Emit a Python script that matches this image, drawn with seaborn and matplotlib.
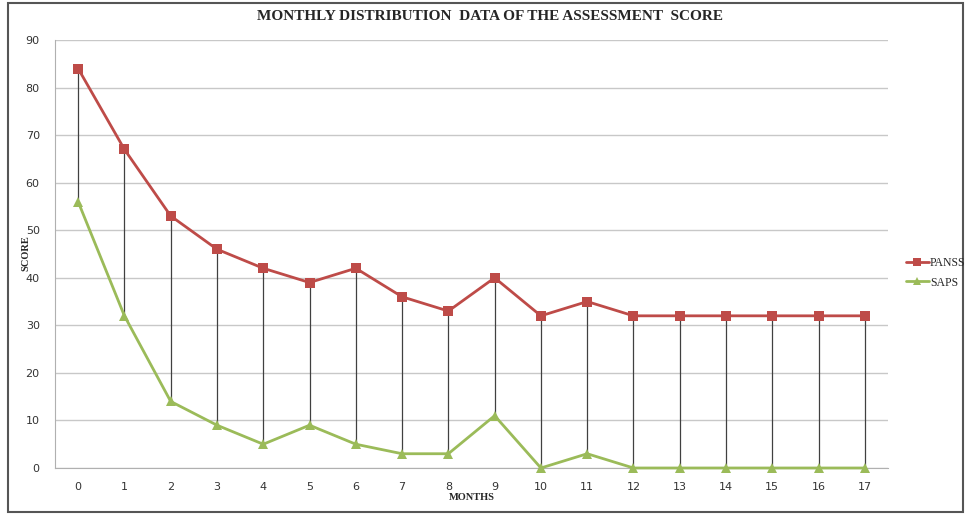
import numpy as np
import pandas as pd
import matplotlib
matplotlib.use('Agg')
import matplotlib.pyplot as plt
import seaborn as sns
from matplotlib.patches import Rectangle
from matplotlib.lines import Line2D

months = list(range(18))
panss = [84, 67, 53, 46, 42, 39, 42, 36, 33, 40, 32, 35, 32, 32, 32, 32, 32, 32]
saps = [56, 32, 14, 9, 5, 9, 5, 3, 3, 11, 0, 3, 0, 0, 0, 0, 0, 0]

df = pd.DataFrame({
    'month': months * 2,
    'score': panss + saps,
    'series': ['PANSS'] * len(months) + ['SAPS'] * len(months),
})

sns.set_style('white')
plt.rcParams['font.family'] = ['DejaVu Sans']

fig = plt.figure(figsize=(9.65, 5.14), dpi=100)
ax = fig.add_axes([55 / 965, 1 - 468 / 514, 833 / 965, 428 / 514])

# high-low lines between the two series
ax.vlines(months, saps, panss, color='#404040', lw=0.9, zorder=2)

sns.lineplot(data=df, x='month', y='score', hue='series', style='series',
             markers={'PANSS': 's', 'SAPS': '^'}, dashes=False,
             palette={'PANSS': '#BE4B48', 'SAPS': '#9BBB59'},
             lw=2, markersize=7, markeredgewidth=0, ax=ax, legend=False, zorder=3)
for ln in ax.lines:
    ln.set_clip_on(False)

ax.set_xlim(-0.5, 17.5)
ax.set_ylim(0, 90)
ax.set_xticks(months)
ax.set_yticks(range(0, 91, 10))
ax.grid(axis='y', color='#c8c8c8', lw=1)
ax.set_axisbelow(True)
for s in ['top', 'right']:
    ax.spines[s].set_visible(False)
for s in ['left', 'bottom']:
    ax.spines[s].set_color('#b0b0b0')
ax.tick_params(axis='y', length=5, labelsize=8, pad=6, colors='#b0b0b0', labelcolor='#333333')
ax.tick_params(axis='x', length=0, labelsize=8, pad=10, labelcolor='#333333')
ax.set_xlabel('')
ax.set_ylabel('')

serif = ['Liberation Serif', 'DejaVu Serif']
fig.text(490 / 965, 1 - 17 / 514, 'MONTHLY DISTRIBUTION  DATA OF THE ASSESSMENT  SCORE',
         ha='center', va='center', fontsize=11, fontweight='bold', family=serif)
fig.text(472 / 965, 1 - 497 / 514, 'MONTHS', ha='center', va='center',
         fontsize=7.5, fontweight='bold', family=serif)
fig.text(26 / 965, 1 - 253 / 514, 'SCORE', ha='center', va='center', rotation=90,
         fontsize=7.5, fontweight='bold', family=serif)

handles = [Line2D([], [], color='#BE4B48', marker='s', lw=2, markersize=6, markeredgewidth=0),
           Line2D([], [], color='#9BBB59', marker='^', lw=2, markersize=6, markeredgewidth=0)]
fig.legend(handles, ['PANSS', 'SAPS'], loc='center left',
           bbox_to_anchor=(898 / 965, 1 - 273 / 514), frameon=False,
           prop={'family': serif, 'size': 8.5}, handlelength=1.9, handletextpad=0.1,
           labelspacing=0.6, borderpad=0.2)

fig.patches.append(Rectangle((8 / 965, 2 / 514), 955 / 965, 509 / 514, transform=fig.transFigure,
                             fill=False, edgecolor='#555555', lw=1.5))

fig.savefig('out.png', dpi=100)
